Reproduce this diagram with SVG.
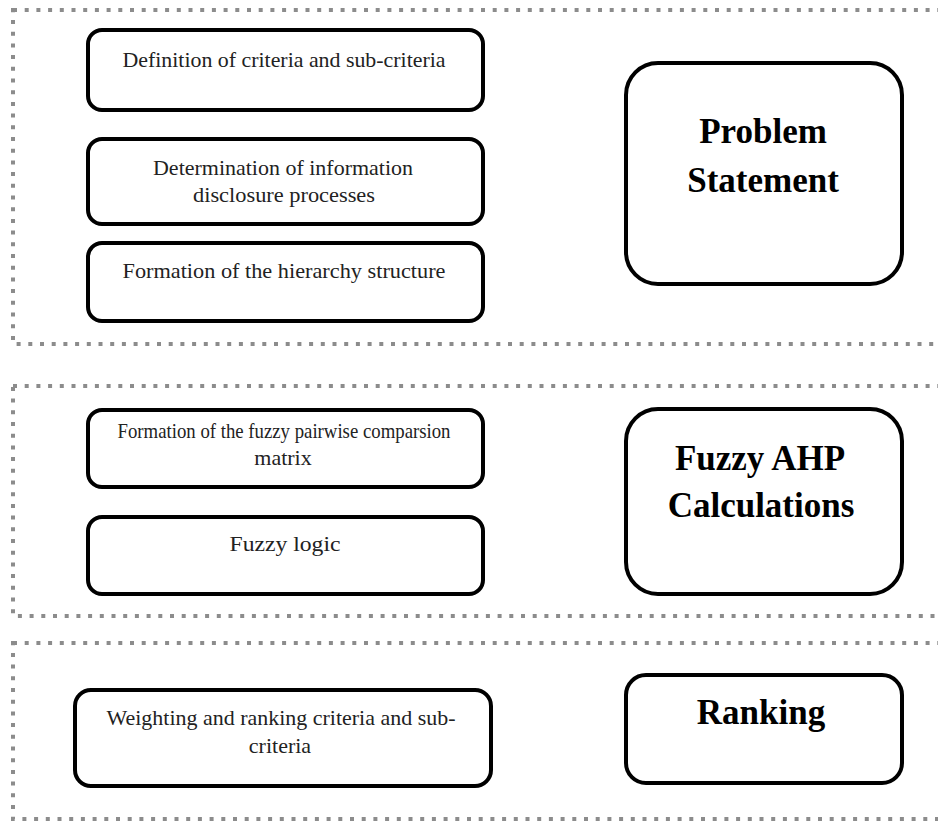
<svg xmlns="http://www.w3.org/2000/svg" width="938" height="822" viewBox="0 0 938 822">
<style>
.panel{fill:none;stroke:#8c8c8c;stroke-width:4;stroke-dasharray:4 7.7}
.box{fill:#fff;stroke:#000;stroke-width:4}
.small{font-family:"Liberation Serif","Times New Roman",serif;font-size:22px;fill:#222;text-anchor:middle}
.title{font-family:"Liberation Serif","Times New Roman",serif;font-size:35px;font-weight:bold;fill:#000;text-anchor:middle}
</style>
<rect width="938" height="822" fill="#fff"/>
<g id="panel-problem"><rect class="panel" x="13" y="10" width="960" height="334"/></g>
<g id="panel-fahp"><rect class="panel" x="13" y="386" width="960" height="230"/></g>
<g id="panel-ranking"><rect class="panel" x="13" y="643" width="960" height="176"/></g>

<g id="n-definition">
<rect class="box" x="88" y="30" width="395" height="80" rx="14"/>
<text class="small" x="284" y="67" textLength="323" lengthAdjust="spacingAndGlyphs">Definition of criteria and sub-criteria</text>
</g>
<g id="n-determination">
<rect class="box" x="88" y="139" width="395" height="85" rx="14"/>
<text class="small" x="283" y="175" textLength="260" lengthAdjust="spacingAndGlyphs">Determination of information</text>
<text class="small" x="284" y="202" textLength="182" lengthAdjust="spacingAndGlyphs">disclosure processes</text>
</g>
<g id="n-hierarchy">
<rect class="box" x="88" y="243" width="395" height="78" rx="14"/>
<text class="small" x="284" y="278" textLength="323" lengthAdjust="spacingAndGlyphs">Formation of the hierarchy structure</text>
</g>
<g id="n-problem">
<rect class="box" x="626" y="63" width="276" height="221" rx="32"/>
<text class="title" x="763" y="143">Problem</text>
<text class="title" x="763" y="192">Statement</text>
</g>

<g id="n-pairwise">
<rect class="box" x="88" y="410" width="395" height="77" rx="14"/>
<text class="small" x="284" y="438" font-size="18" textLength="333" lengthAdjust="spacingAndGlyphs">Formation of the fuzzy pairwise comparsion</text>
<text class="small" x="283" y="465" font-size="18">matrix</text>
</g>
<g id="n-fuzzylogic">
<rect class="box" x="88" y="517" width="395" height="77" rx="14"/>
<text class="small" x="285" y="551" font-size="24" textLength="111" lengthAdjust="spacingAndGlyphs">Fuzzy logic</text>
</g>
<g id="n-fahp">
<rect class="box" x="626" y="409" width="276" height="185" rx="32"/>
<text class="title" x="760" y="470">Fuzzy AHP</text>
<text class="title" x="761" y="517">Calculations</text>
</g>

<g id="n-weighting">
<rect class="box" x="75" y="690" width="416" height="96" rx="16"/>
<text class="small" x="281" y="725" textLength="349" lengthAdjust="spacingAndGlyphs">Weighting and ranking criteria and sub-</text>
<text class="small" x="280" y="753">criteria</text>
</g>
<g id="n-ranking">
<rect class="box" x="626" y="675" width="276" height="108" rx="20"/>
<text class="title" x="761" y="724">Ranking</text>
</g>
<g id="connectors"></g>
</svg>
